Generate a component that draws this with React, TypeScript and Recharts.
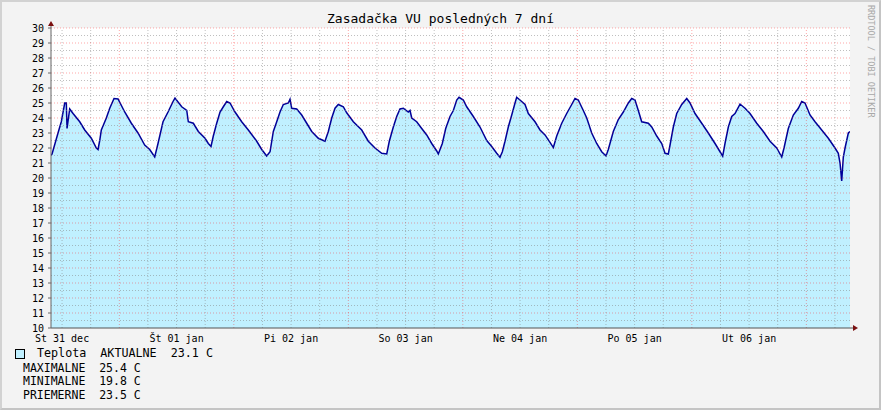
import { ComposedChart, Area, XAxis, YAxis, CartesianGrid, ReferenceLine, ReferenceDot } from "recharts";

// hours counted from St 31 dec 00:00
const hours = [
  9.68, 9.9, 11.15, 11.84, 12.56, 12.89, 13.04, 13.6, 14.3, 15.7, 16.75, 18.13, 19.18, 19.54, 19.89, 20.23, 21.28, 21.99, 22.89, 23.73,
  25.13, 26.52, 27.92, 29.32, 30.37, 31.42, 32.11, 33.16, 34.21, 35.26, 35.67, 37.08, 38.13, 38.46, 39.51, 40.56, 41.96, 42.65, 43.22, 43.7, 44.41, 45.11, 45.8, 46.51, 47.2,
  48.25, 49.65, 51.04, 52.8, 53.85, 54.89, 55.59, 56.28, 56.99, 57.68, 58.37, 59.42, 59.78, 60.13, 61.18, 62.23, 63.28, 64.33, 65.71, 66.76, 67.11, 67.81, 68.52, 69.21, 69.9, 70.95, 71.66,
  73.05, 74.81, 76.19, 77.59, 79.0, 80.05, 80.59, 81.43, 82.14, 82.83, 83.53, 84.57, 84.93, 85.29, 86.33, 87.38, 88.43, 89.48, 90.53, 90.86, 91.7, 92.41, 93.31, 94.01, 94.72, 95.2, 96.1, 96.81,
  98.2, 99.6, 101.01, 102.05, 103.1, 103.79, 104.28, 104.84, 105.53, 106.25, 106.94, 107.29, 108.34, 109.03, 109.73, 111.13, 112.18, 113.23, 114.27, 114.97, 115.68, 116.73, 117.77, 118.82, 119.51, 120.2,
  121.25, 121.97, 123.01, 124.06, 125.11, 126.01, 126.49, 127.54, 128.59, 129.64, 130.69, 131.4, 132.09, 132.78, 133.49, 134.88, 135.59, 136.64, 137.69, 138.38, 139.07, 139.43, 140.12, 140.83, 141.88, 142.93, 143.62,
  144.67, 146.07, 147.45, 148.86, 149.91, 150.47, 150.95, 151.65, 152.36, 153.05, 154.1, 155.15, 156.19, 157.6, 158.98, 160.39, 161.79, 162.84, 163.32, 164.22, 165.27, 166.32, 167.03, 167.72,
  168.77, 169.82, 171.22, 172.61, 174.01, 174.7, 175.06, 175.41, 175.75, 176.11, 176.8, 177.15,
];

const teplota = [
  21.5, 21.6, 23.0, 23.75, 25.0, 25.0, 23.3, 24.6, 24.3, 23.75, 23.2, 22.65, 22.0, 21.9, 22.5, 23.2, 24.0, 24.65, 25.3, 25.27,
  24.4, 23.65, 23.0, 22.2, 21.9, 21.4, 22.3, 23.75, 24.4, 25.1, 25.33, 24.75, 24.5, 23.75, 23.65, 23.1, 22.65, 22.3, 22.1, 22.8, 23.65, 24.4, 24.75, 25.1, 25.0,
  24.4, 23.75, 23.2, 22.45, 21.9, 21.47, 21.75, 23.1, 23.75, 24.4, 24.9, 25.0, 25.25, 24.65, 24.6, 24.2, 23.65, 23.1, 22.65, 22.5, 22.45, 23.1, 24.0, 24.65, 24.9, 24.75, 24.35,
  23.75, 23.2, 22.45, 22.0, 21.65, 21.6, 22.45, 23.4, 24.1, 24.6, 24.65, 24.4, 24.5, 24.0, 23.75, 23.3, 22.87, 22.3, 21.8, 21.6, 22.3, 23.3, 24.1, 24.5, 25.2, 25.38, 25.2, 24.75,
  24.1, 23.4, 22.5, 22.1, 21.65, 21.38, 21.75, 22.45, 23.4, 24.2, 25.0, 25.38, 25.1, 24.9, 24.3, 23.75, 23.2, 22.87, 22.37, 22.03, 22.8, 23.65, 24.3, 24.9, 25.3, 25.2,
  24.5, 24.0, 23.0, 22.3, 21.75, 21.47, 21.9, 23.1, 23.9, 24.4, 25.0, 25.3, 25.2, 24.5, 23.75, 23.65, 23.4, 22.8, 22.3, 21.65, 21.6, 22.2, 23.4, 24.3, 24.9, 25.3, 25.0,
  24.3, 23.65, 23.0, 22.3, 21.75, 21.45, 22.3, 23.4, 24.1, 24.3, 24.93, 24.65, 24.3, 23.65, 23.1, 22.45, 22.0, 21.4, 22.0, 23.3, 24.2, 24.65, 25.1, 25.0,
  24.2, 23.75, 23.2, 22.65, 22.0, 21.65, 21.0, 19.8, 21.4, 22.0, 23.0, 23.1,
];

const xTicks = [12, 36, 60, 84, 108, 132, 156];
const xTickLabels = ["St 31 dec", "Št 01 jan", "Pi 02 jan", "So 03 jan", "Ne 04 jan", "Po 05 jan", "Ut 06 jan"];
const yTicks = [10, 11, 12, 13, 14, 15, 16, 17, 18, 19, 20, 21, 22, 23, 24, 25, 26, 27, 28, 29, 30];

const statLabels = ["AKTUALNE", "MAXIMALNE", "MINIMALNE", "PRIEMERNE"];
const statValues = [23.1, 25.4, 19.8, 23.5];

const xMin = hours[0];
const xMax = hours[hours.length - 1];

const data = hours.map((h, i) => ({ h, t: teplota[i] }));

// grid: red at whole degrees / midnights, gray at half degrees / every 6 hours
const yMajor = yTicks.filter((v) => v > 10);
const yMinor = yTicks.slice(0, -1).map((v) => v + 0.5);
const xMajor: number[] = [];
const xMinor: number[] = [];
for (let h = 6; h < xMax; h += 6) {
  if (h < xMin) continue;
  if (h % 24 === 0) xMajor.push(h);
  else xMinor.push(h);
}

const mono = "'DejaVu Sans Mono', monospace";
const redGrid = "rgba(255,0,0,0.35)";
const grayGrid = "rgba(128,128,128,0.5)";
const arrowColor = "#7a1010";

const YArrow = (props: any) => {
  const { cx, cy } = props;
  return (
    <g>
      <line x1={cx} y1={cy} x2={cx} y2={cy - 3} stroke="#666" />
      <polygon points={`${cx - 3},${cy - 2} ${cx + 3},${cy - 2} ${cx},${cy - 7}`} fill={arrowColor} />
    </g>
  );
};

const XArrow = (props: any) => {
  const { cx, cy } = props;
  return (
    <g>
      <line x1={cx} y1={cy} x2={cx + 4} y2={cy} stroke="#555" />
      <polygon points={`${cx + 3},${cy - 3} ${cx + 3},${cy + 3} ${cx + 8},${cy}`} fill={arrowColor} />
    </g>
  );
};

export default function App() {
  return (
    <div style={{ position: "fixed", left: 0, top: 0, width: 881, height: 410, background: "#f3f3f3", fontFamily: mono }}>
      <ComposedChart width={881} height={410} data={data} margin={{ top: 28, right: 31, bottom: 62, left: 11 }}>
        <CartesianGrid fill="#ffffff" horizontal={false} vertical={false} />
        <XAxis
          dataKey="h"
          type="number"
          domain={[xMin, xMax]}
          allowDataOverflow
          ticks={xTicks}
          tickFormatter={(v) => xTickLabels[xTicks.indexOf(v)] ?? ""}
          tickLine={false}
          tickSize={3}
          tickMargin={4}
          height={20}
          stroke="#555"
          tick={{ fontSize: 10, fontFamily: mono, fill: "#000" }}
        />
        <YAxis
          type="number"
          domain={[10, 30]}
          ticks={yTicks}
          interval={0}
          width={40}
          tickSize={3}
          tickMargin={4}
          stroke="#666"
          tick={{ fontSize: 10, fontFamily: mono, fill: "#000" }}
        />
        <Area
          type="linear"
          dataKey="t"
          stroke="#000099"
          strokeWidth={1.5}
          fill="#c0f0ff"
          fillOpacity={1}
          isAnimationActive={false}
        />
        {yMinor.map((v) => (
          <ReferenceLine key={"ym" + v} y={v} stroke={grayGrid} strokeDasharray="1 2" />
        ))}
        {xMinor.map((v) => (
          <ReferenceLine key={"xm" + v} x={v} stroke={grayGrid} strokeDasharray="1 2" />
        ))}
        {yMajor.map((v) => (
          <ReferenceLine key={"yM" + v} y={v} stroke={redGrid} strokeDasharray="1 2" />
        ))}
        {xMajor.map((v) => (
          <ReferenceLine key={"xM" + v} x={v} stroke={redGrid} strokeDasharray="1 2" />
        ))}
        <ReferenceDot x={xMin} y={30} r={0} ifOverflow="visible" shape={YArrow} />
        <ReferenceDot x={xMax} y={10} r={0} ifOverflow="visible" shape={XArrow} />
      </ComposedChart>

      <div style={{ position: "absolute", left: 0, top: 11, width: 881, textAlign: "center", fontSize: 13, lineHeight: "16px", color: "#000", whiteSpace: "pre" }}>
        Zasadačka VU posledných 7 dní
      </div>

      <div style={{ position: "absolute", left: 866, top: 5, writingMode: "vertical-rl", fontSize: 8.5, color: "#a8a8a8", whiteSpace: "pre" }}>
        RRDTOOL / TOBI OETIKER
      </div>

      <div style={{ position: "absolute", left: 15, top: 349, width: 8, height: 8, background: "#c0f0ff", border: "1px solid #000" }} />
      <div style={{ position: "absolute", left: 37, top: 346, fontSize: 11.7, lineHeight: "15px", color: "#000", whiteSpace: "pre" }}>
        {`Teplota  ${statLabels[0]}  ${statValues[0].toFixed(1)} C`}
      </div>
      {statLabels.slice(1).map((label, i) => (
        <div
          key={label}
          style={{ position: "absolute", left: 23, top: [361, 374, 388][i], fontSize: 11.5, lineHeight: "15px", color: "#000", whiteSpace: "pre" }}
        >
          {`${label}  ${statValues[i + 1].toFixed(1)} C`}
        </div>
      ))}

      <div style={{ position: "absolute", left: 0, top: 0, width: 881, height: 410, boxSizing: "border-box", borderTop: "2px solid #d2d2d2", borderLeft: "2px solid #d2d2d2", borderBottom: "2px solid #c4c4c4", borderRight: "2px solid #c4c4c4", pointerEvents: "none" }} />
    </div>
  );
}
